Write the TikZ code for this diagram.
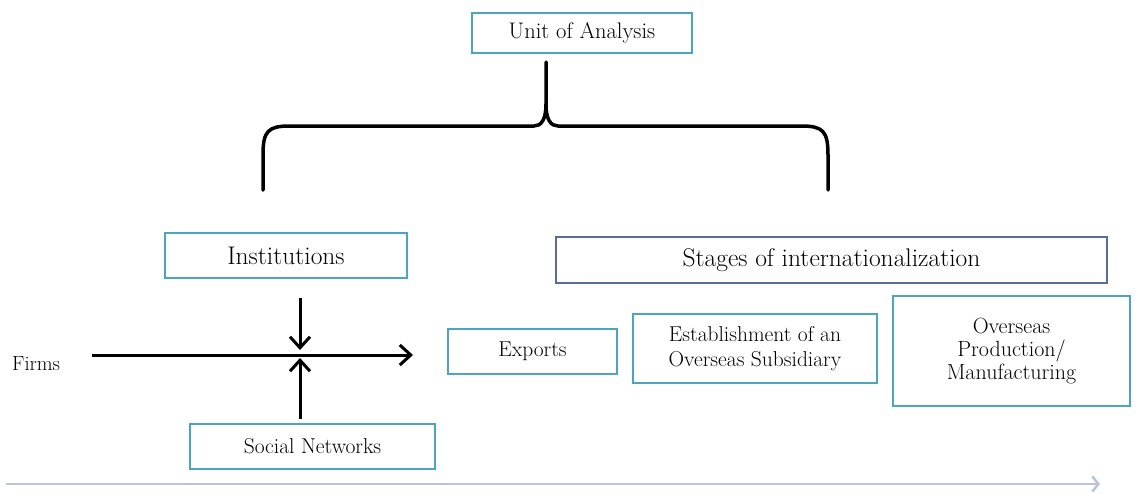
\documentclass[tikz,border=0pt]{standalone}
\usetikzlibrary{arrows.meta}
\definecolor{teal}{RGB}{75,165,190}
\definecolor{slate}{RGB}{88,108,160}
\definecolor{timeline}{RGB}{185,196,212}
\tikzset{
  box/.style={draw=teal, line width=2.8pt, fill=white, rectangle, align=center, inner sep=0pt,
    text=black, font=\fontsize{21.5}{25}\selectfont},
  bigbox/.style={box, font=\fontsize{25.5}{29}\selectfont},
  arr/.style={line width=3pt, -{Straight Barb[length=11pt,width=20pt]}},
  bracepath/.style={line width=3.5pt, line cap=round, line join=round},
}
\begin{document}
\begin{tikzpicture}[x=1pt,y=-1pt]
\useasboundingbox (0,0) rectangle (1136,493);
% boxes
\node[box, font=\fontsize{22.5}{26}\selectfont, minimum width=220pt, minimum height=40pt] (unit) at (582,33) {Unit of Analysis};
\node[bigbox, minimum width=242pt, minimum height=45pt] (inst) at (286,255.5) {Institutions};
\node[bigbox, draw=slate, minimum width=551pt, minimum height=46pt] (stages) at (831.5,260) {Stages of internationalization};
\node[box, minimum width=169pt, minimum height=45pt] (exports) at (532.5,351.5) {Exports};
\node[box, minimum width=244pt, minimum height=69pt] (estab) at (755,348.5) {Establishment of an\\Overseas Subsidiary};
\node[box, font=\fontsize{22}{23}\selectfont, minimum width=237pt, minimum height=110pt] (overseas) at (1011.5,351) {Overseas\\Production/\\Manufacturing};
\node[box, minimum width=245pt, minimum height=45pt] (soc) at (312.5,446.5) {Social Networks};
\node[anchor=base west, inner sep=0pt, text=black, font=\fontsize{20.5}{24}\selectfont] (firms) at (12,370) {Firms};
% brace
\draw[bracepath] (263,190) -- (263,155) .. controls (263,131) and (268,126) .. (290,126)
  -- (534,126) .. controls (541,126) and (546,120) .. (546,104) -- (546,62);
\draw[bracepath] (828,190) -- (828,155) .. controls (828,131) and (823,126) .. (801,126)
  -- (558,126) .. controls (551,126) and (546,120) .. (546,104);
% arrows
\coordinate (cross) at (300,355);
\coordinate (fs) at (92,355);
\coordinate (fe) at (413,355);
\draw[arr] (fs) -- (fe);
\draw[arr] ([yshift=-19pt]inst.south -| cross) -- ([yshift=5pt]cross);
\draw[arr] ([yshift=4pt]soc.north -| cross) -- ([yshift=-3pt]cross);
% timeline
\coordinate (ts) at (6,484);
\coordinate (te) at (1100,484);
\draw[timeline, line width=2.5pt, -{Straight Barb[length=6pt,width=15pt]}] (ts) -- (te);
\end{tikzpicture}
\end{document}
